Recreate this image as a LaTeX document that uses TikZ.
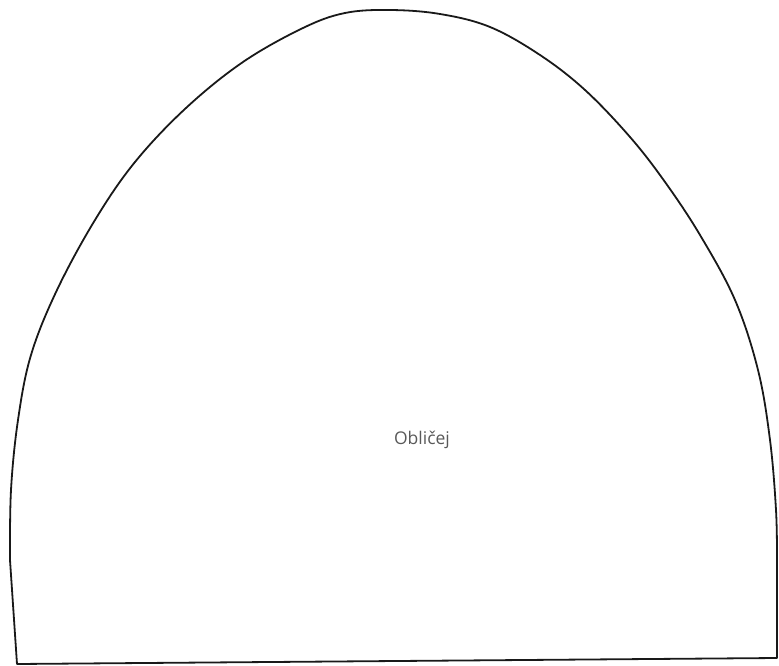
\documentclass[tikz,border=0pt]{standalone}
\usepackage{fontspec}
\newfontfamily\labelfont{Open Sans}
\begin{document}
\begin{tikzpicture}[x=1pt,y=-1pt,
  outline/.style={draw=black!90,line width=1.8pt,line join=round},
  lbl/.style={font=\labelfont\fontsize{17.5}{21}\selectfont,text=black!65}]
\useasboundingbox (0,0) rectangle (779,666);
\draw[outline] (17,664) -- (10,560)
  -- plot[smooth,tension=0.6] coordinates {(10,560) (11,490) (18,420) (31,355) (57,290) (95,220) (135,162) (186,108) (243,62) (303,28) (345,13) (390,10) (440,14) (490,27) (540,55) (585,90) (630,137) (665,182) (700,235) (735,300) (758,370) (770,440) (776,510) (777,560)}
  -- (777,658) -- cycle;
\node[lbl] (face) at (422,440) {Obličej};
\end{tikzpicture}
\end{document}
